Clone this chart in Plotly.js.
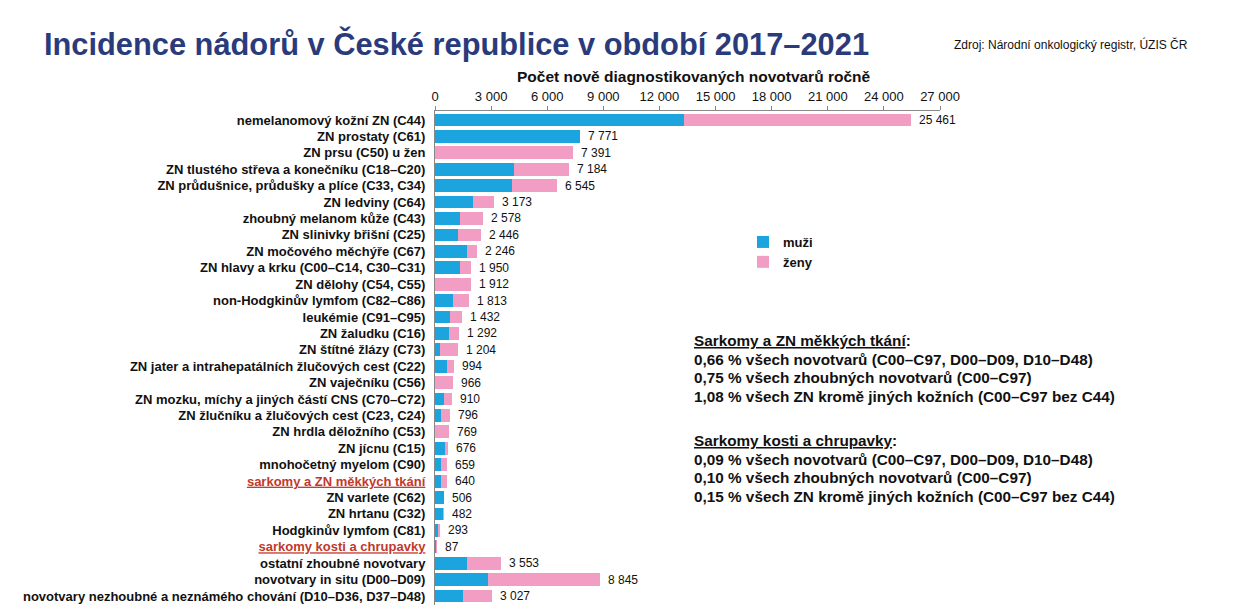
<!DOCTYPE html>
<html>
<head>
<meta charset="utf-8">
<script src="https://cdn.plot.ly/plotly-3.0.1.min.js"></script>
<style>html,body{margin:0;padding:0;background:#fff;}#chart{width:1237px;height:612px;}</style>
</head>
<body>
<div id="chart"></div>
<script>
const categories = [
  "nemelanomový kožní ZN (C44)",
  "ZN prostaty (C61)",
  "ZN prsu (C50) u žen",
  "ZN tlustého střeva a konečníku (C18–C20)",
  "ZN průdušnice, průdušky a plíce (C33, C34)",
  "ZN ledviny (C64)",
  "zhoubný melanom kůže (C43)",
  "ZN slinivky břišní (C25)",
  "ZN močového měchýře (C67)",
  "ZN hlavy a krku (C00–C14, C30–C31)",
  "ZN dělohy (C54, C55)",
  "non-Hodgkinův lymfom (C82–C86)",
  "leukémie (C91–C95)",
  "ZN žaludku (C16)",
  "ZN štítné žlázy (C73)",
  "ZN jater a intrahepatálních žlučových cest (C22)",
  "ZN vaječníku (C56)",
  "ZN mozku, míchy a jiných částí CNS (C70–C72)",
  "ZN žlučníku a žlučových cest (C23, C24)",
  "ZN hrdla děložního (C53)",
  "ZN jícnu (C15)",
  "mnohočetný myelom (C90)",
  "sarkomy a ZN měkkých tkání",
  "ZN varlete (C62)",
  "ZN hrtanu (C32)",
  "Hodgkinův lymfom (C81)",
  "sarkomy kosti a chrupavky",
  "ostatní zhoubné novotvary",
  "novotvary in situ (D00–D09)",
  "novotvary nezhoubné a neznámého chování (D10–D36, D37–D48)"
];
const highlighted = ["sarkomy a ZN měkkých tkání", "sarkomy kosti a chrupavky"];
const muzi = [13300, 7771, 0, 4250, 4100, 2050, 1320, 1230, 1700, 1350, 0, 950, 800, 760, 280, 640, 0, 500, 300, 0, 530, 340, 330, 506, 420, 160, 50, 1700, 2850, 1500];
const celkem = [25461, 7771, 7391, 7184, 6545, 3173, 2578, 2446, 2246, 1950, 1912, 1813, 1432, 1292, 1204, 994, 966, 910, 796, 769, 676, 659, 640, 506, 482, 293, 87, 3553, 8845, 3027];
const zeny = celkem.map((t, i) => t - muzi[i]);
const xTicks = [0, 3000, 6000, 9000, 12000, 15000, 18000, 21000, 24000, 27000];
const seriesNames = ["muži", "ženy"];
const seriesColors = ["#1ca4df", "#f29ec4"];

function fmt(n) { return String(n).replace(/\B(?=(\d{3})+(?!\d))/g, " "); }

const tickText = categories.map(c => highlighted.includes(c)
  ? '<span style="color:#c0392b;text-decoration:underline">' + c + '</span>'
  : c);

const FONT = "Liberation Sans, Arial, sans-serif";

const traces = [
  {type: "bar", orientation: "h", name: seriesNames[0], y: categories, x: muzi,
   marker: {color: seriesColors[0]}, hoverinfo: "x+y"},
  {type: "bar", orientation: "h", name: seriesNames[1], y: categories, x: zeny,
   marker: {color: seriesColors[1]}, hoverinfo: "x+y"}
];

// plot area in pixels: x 435..940, y 111..605
const PL = 435, PW = 505, PT = 111, PH = 494;
const px = x => (x - PL) / PW;
const py = y => 1 - (y - PT) / PH;

const annotations = categories.map((c, i) => ({
  x: celkem[i], y: c, xref: "x", yref: "y", text: fmt(celkem[i]),
  showarrow: false, xanchor: "left", xshift: 6,
  font: {family: FONT, size: 12, color: "#111"}
}));

annotations.push(
  {xref: "paper", yref: "paper", x: px(694), y: py(76), text: "Počet nově diagnostikovaných novotvarů ročně",
   showarrow: false, xanchor: "center", yanchor: "middle", font: {family: FONT, size: 15.5, color: "#111", weight: "bold"}},
  {xref: "paper", yref: "paper", x: px(1190), y: py(44), text: "Zdroj: Národní onkologický registr, ÚZIS ČR",
   showarrow: false, xanchor: "right", yanchor: "middle", font: {family: FONT, size: 12, color: "#111"}}
);

const blockLines = [
  ["<u>Sarkomy a ZN měkkých tkání</u>:", 340],
  ["0,66 % všech novotvarů (C00–C97, D00–D09, D10–D48)", 359],
  ["0,75 % všech zhoubných novotvarů (C00–C97)", 377],
  ["1,08 % všech ZN kromě jiných kožních (C00–C97 bez C44)", 396],
  ["<u>Sarkomy kosti a chrupavky</u>:", 440],
  ["0,09 % všech novotvarů (C00–C97, D00–D09, D10–D48)", 459],
  ["0,10 % všech zhoubných novotvarů (C00–C97)", 477],
  ["0,15 % všech ZN kromě jiných kožních (C00–C97 bez C44)", 496]
];
blockLines.forEach(([t, y]) => annotations.push({
  xref: "paper", yref: "paper", x: px(692), y: py(y),
  text: t, showarrow: false, xanchor: "left", yanchor: "middle",
  font: {family: FONT, size: 15.3, color: "#111", weight: "bold"}
}));

const layout = {
  width: 1237, height: 612,
  margin: {l: PL, r: 1237 - PL - PW, t: PT, b: 612 - PT - PH, pad: 0},
  paper_bgcolor: "#fff", plot_bgcolor: "#fff",
  barmode: "stack", bargap: 0.22,
  showlegend: true,
  legend: {x: px(743), y: py(227), xanchor: "left", yanchor: "top", traceorder: "normal",
    tracegroupgap: 0, itemwidth: 30, bgcolor: "rgba(0,0,0,0)",
    font: {family: FONT, size: 13, color: "#111", weight: "bold"}},
  title: {text: "Incidence nádorů v České republice v období 2017–2021", x: 44 / 1237, xanchor: "left",
    y: 1 - 44 / 612, yanchor: "middle", font: {family: FONT, size: 30.8, color: "#2a3b7c", weight: "bold"}},
  xaxis: {side: "top", range: [0, 27000], tickvals: xTicks, ticktext: xTicks.map(fmt),
    showgrid: false, zeroline: false, showline: true, linecolor: "#888", linewidth: 1,
    ticks: "outside", ticklen: 4, tickcolor: "#888",
    tickfont: {family: FONT, size: 13, color: "#111"}, fixedrange: true},
  yaxis: {autorange: "reversed", type: "category", tickvals: categories, ticktext: tickText,
    showgrid: false, showline: true, linecolor: "#888", linewidth: 1, ticks: "", ticklabelstandoff: 6,
    tickfont: {family: FONT, size: 13, color: "#111", weight: "bold"}, fixedrange: true},
  annotations: annotations
};

Plotly.newPlot("chart", traces, layout, {displayModeBar: false, staticPlot: true});
</script>
</body>
</html>
